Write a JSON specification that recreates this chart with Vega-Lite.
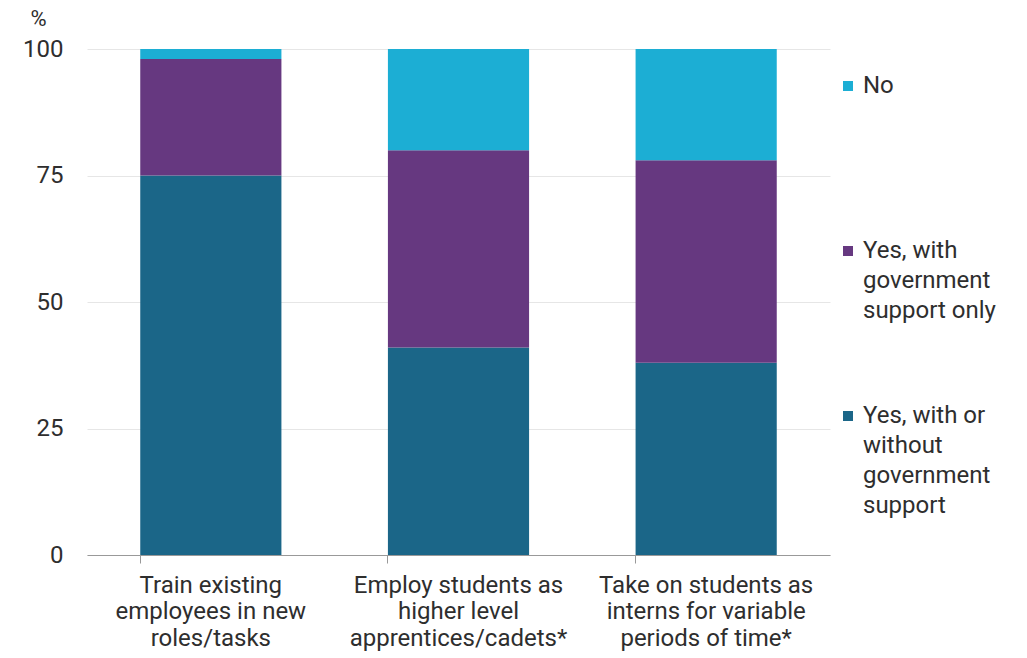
{
  "$schema": "https://vega.github.io/schema/vega-lite/v6.json",
  "width": 743,
  "height": 506,
  "autosize": "none",
  "padding": {"left": 87, "top": 49, "right": 197, "bottom": 103},
  "background": "white",
  "config": {
    "font": "Roboto",
    "view": {"stroke": null},
    "style": {"guide-label": {"lineHeight": 30}}
  },
  "data": {
    "values": [
      {"activity": "Train existing employees in new roles/tasks", "response": "Yes, with or without government support", "pct": 75},
      {"activity": "Train existing employees in new roles/tasks", "response": "Yes, with government support only", "pct": 23},
      {"activity": "Train existing employees in new roles/tasks", "response": "No", "pct": 2},
      {"activity": "Employ students as higher level apprentices/cadets*", "response": "Yes, with or without government support", "pct": 41},
      {"activity": "Employ students as higher level apprentices/cadets*", "response": "Yes, with government support only", "pct": 39},
      {"activity": "Employ students as higher level apprentices/cadets*", "response": "No", "pct": 20},
      {"activity": "Take on students as interns for variable periods of time*", "response": "Yes, with or without government support", "pct": 38},
      {"activity": "Take on students as interns for variable periods of time*", "response": "Yes, with government support only", "pct": 40},
      {"activity": "Take on students as interns for variable periods of time*", "response": "No", "pct": 22}
    ]
  },
  "mark": {"type": "bar"},
  "encoding": {
    "x": {
      "field": "activity",
      "type": "nominal",
      "sort": null,
      "scale": {"paddingInner": 0.43, "paddingOuter": 0.215},
      "axis": {
        "title": null,
        "labelAngle": 0,
        "labelFont": "Roboto",
        "labelFontSize": 24,
        "labelColor": "#2e2e2e",
        "labelLineHeight": 26.5,
        "labelBaseline": "top",
        "labelPadding": 10,
        "labelLimit": 300,
        "bandPosition": 0,
        "tickSize": 8,
        "tickColor": "#999999",
        "domainColor": "#999999",
        "grid": false,
        "labelExpr": "datum.label == 'Train existing employees in new roles/tasks' ? ['Train existing', 'employees in new', 'roles/tasks'] : datum.label == 'Employ students as higher level apprentices/cadets*' ? ['Employ students as', 'higher level', 'apprentices/cadets*'] : ['Take on students as', 'interns for variable', 'periods of time*']"
      }
    },
    "y": {
      "field": "pct",
      "type": "quantitative",
      "stack": "zero",
      "scale": {"domain": [0, 100]},
      "axis": {
        "values": [0, 25, 50, 75, 100],
        "title": "%",
        "titleAngle": 0,
        "titleX": -49,
        "titleY": -31,
        "titleAlign": "center",
        "titleBaseline": "middle",
        "titleFont": "Roboto",
        "titleFontSize": 22,
        "titleFontWeight": "normal",
        "titleColor": "#2e2e2e",
        "labelFont": "Roboto",
        "labelFontSize": 24,
        "labelColor": "#2e2e2e",
        "labelPadding": 24,
        "ticks": false,
        "domain": false,
        "gridColor": "#e6e6e6",
        "gridWidth": 1
      }
    },
    "color": {
      "field": "response",
      "type": "nominal",
      "scale": {
        "domain": ["No", "Yes, with government support only", "Yes, with or without government support"],
        "range": ["#1CAED4", "#663880", "#1B6688"]
      },
      "legend": {
        "title": null,
        "orient": "none",
        "legendX": 749,
        "legendY": 25,
        "padding": 0,
        "symbolType": "square",
        "symbolSize": 100,
        "symbolStrokeWidth": 0,
        "labelFont": "Roboto",
        "labelFontSize": 24,
        "labelColor": "#2e2e2e",
        "labelOffset": 3,
        "labelLimit": 300,
        "gridAlign": "all",
        "rowPadding": 51,
        "labelExpr": "datum.label == 'No' ? ['No'] : datum.label == 'Yes, with government support only' ? ['Yes, with', 'government', 'support only'] : ['Yes, with or', 'without', 'government', 'support']"
      }
    },
    "order": {"field": "response", "sort": "descending"}
  }
}
